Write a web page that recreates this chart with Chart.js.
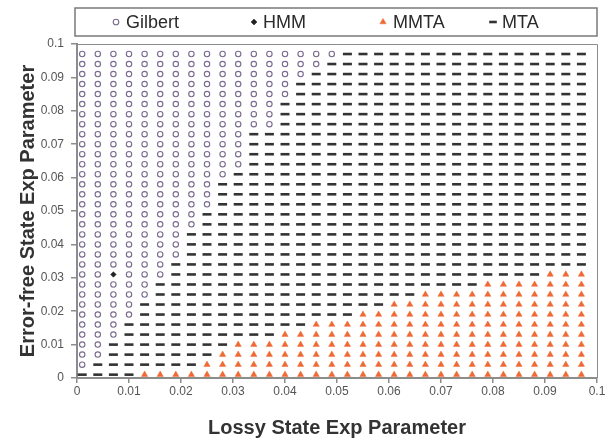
<!DOCTYPE html>
<html>
<head>
<meta charset="utf-8">
<script src="https://cdn.jsdelivr.net/npm/chart.js@4.4.0/dist/chart.umd.min.js"></script>
<style>
  html, body { margin: 0; padding: 0; background: #fff; }
  #wrap { width: 607px; height: 443px; }
</style>
</head>
<body>
<div id="wrap"><canvas id="gridChart"></canvas></div>
<script>
// grid of parameter values (same for both axes)
const lossyRates = [0.001, 0.004, 0.007, 0.010, 0.013, 0.016, 0.019, 0.022, 0.025, 0.028, 0.031,
    0.034, 0.037, 0.040, 0.043, 0.046, 0.049, 0.052, 0.055, 0.058, 0.061, 0.064,
    0.067, 0.070, 0.073, 0.076, 0.079, 0.082, 0.085, 0.088, 0.091, 0.094, 0.097];
const errorFreeRates = [0.001, 0.004, 0.007, 0.010, 0.013, 0.016, 0.019, 0.022, 0.025, 0.028, 0.031,
    0.034, 0.037, 0.040, 0.043, 0.046, 0.049, 0.052, 0.055, 0.058, 0.061, 0.064,
    0.067, 0.070, 0.073, 0.076, 0.079, 0.082, 0.085, 0.088, 0.091, 0.094, 0.097];

// per error-free row (bottom -> top): how many columns from the left are Gilbert
const gilbertCount = [0, 1, 2, 2, 3, 3, 4, 4, 5, 5, 6, 6, 7, 7, 7, 8, 8, 9, 9, 9, 10,
    11, 11, 11, 11, 13, 13, 13, 14, 14, 15, 16, 17];
// per row: first column that is MMTA (rows not listed have none)
const mmtaFrom = [4, 8, 9, 10, 13, 15, 18, 20, 22, 26, 30];
// single HMM winner
const hmmPoint = { x: 0.007, y: 0.031 };

const seriesNames = ['Gilbert', 'HMM', 'MMTA', 'MTA'];
const tickLabel = v => String(parseFloat(Number(v).toFixed(2)));

const gilbertPts = [], mmtaPts = [], mtaPts = [];
errorFreeRates.forEach((y, j) => {
    lossyRates.forEach((x, i) => {
        if (x === hmmPoint.x && y === hmmPoint.y) return;
        if (i < gilbertCount[j]) gilbertPts.push({ x, y });
        else if (j < mmtaFrom.length && i >= mmtaFrom[j]) mmtaPts.push({ x, y });
        else mtaPts.push({ x, y });
    });
});

Chart.defaults.font.family = "'Liberation Sans', Arial, sans-serif";
Chart.defaults.color = '#555';

const axisGrey = '#8c8c8c';

// frame + legend box drawn on the canvas
const legendSlots = [
    { mark: 116, text: 126 },
    { mark: 254, text: 263 },
    { mark: 383, text: 393 },
    { mark: 493, text: 502 }
];
const framePlugin = {
    id: 'frameAndKey',
    beforeDatasetsDraw(chart) {
        const { ctx, chartArea: a } = chart;
        ctx.save();
        ctx.strokeStyle = axisGrey;
        ctx.lineWidth = 1;
        ctx.beginPath();
        ctx.moveTo(a.left, a.top + 0.5);
        ctx.lineTo(a.right + 0.5, a.top + 0.5);
        ctx.lineTo(a.right + 0.5, a.bottom);
        ctx.stroke();
        ctx.restore();
    },
    afterDraw(chart) {
        const { ctx, chartArea: a } = chart;
        ctx.save();
        ctx.strokeStyle = '#7a7a7a';
        ctx.lineWidth = 1.5;
        ctx.strokeRect(a.left - 2, 8, a.right - a.left + 2, 28);
        const cy = 22;
        chart.data.datasets.forEach((ds, i) => {
            const slot = legendSlots[i];
            ctx.save();
            ctx.fillStyle = ds.pointBackgroundColor;
            ctx.strokeStyle = ds.pointBorderColor;
            ctx.lineWidth = ds.pointBorderWidth;
            Chart.helpers.drawPoint(ctx, {
                pointStyle: ds.pointStyle,
                radius: ds.legendRadius,
                borderWidth: ds.pointBorderWidth,
                rotation: 0
            }, slot.mark, cy);
            ctx.restore();
            ctx.fillStyle = '#2a2a2a';
            ctx.font = "18px 'Liberation Sans', Arial, sans-serif";
            ctx.textBaseline = 'middle';
            ctx.fillText(ds.label, slot.text, cy + 1);
        });
        ctx.restore();
    }
};

new Chart(document.getElementById('gridChart'), {
    type: 'scatter',
    data: {
        datasets: [
            {
                label: seriesNames[0],
                data: gilbertPts,
                pointStyle: 'circle',
                pointRadius: 2.7,
                legendRadius: 2.8,
                pointBorderWidth: 1.1,
                pointBorderColor: '#7a6a8e',
                pointBackgroundColor: 'rgba(255,255,255,0)',
                clip: false
            },
            {
                label: seriesNames[1],
                data: [hmmPoint],
                pointStyle: 'rectRot',
                pointRadius: 2.8,
                legendRadius: 3,
                pointBorderWidth: 0.5,
                pointBorderColor: '#222',
                pointBackgroundColor: '#222',
                clip: false
            },
            {
                label: seriesNames[2],
                data: mmtaPts,
                pointStyle: 'triangle',
                pointRadius: 3.6,
                legendRadius: 3.6,
                pointBorderWidth: 0.5,
                pointBorderColor: '#ee6a35',
                pointBackgroundColor: '#ee6a35',
                clip: false
            },
            {
                label: seriesNames[3],
                data: mtaPts,
                pointStyle: 'line',
                pointRadius: 4.5,
                legendRadius: 3.8,
                pointBorderWidth: 2.6,
                pointBorderColor: '#333',
                pointBackgroundColor: '#333',
                clip: false
            }
        ]
    },
    options: {
        responsive: true,
        maintainAspectRatio: false,
        animation: false,
        devicePixelRatio: 1,
        layout: { padding: { top: 44, right: 10, left: 0, bottom: 0 } },
        plugins: {
            legend: { display: false },
            tooltip: { enabled: false }
        },
        scales: {
            x: {
                type: 'linear',
                min: 0,
                max: 0.1,
                afterFit: s => { s.height = 65; },
                ticks: { stepSize: 0.01, padding: 1, color: '#555', font: { size: 12 }, callback: tickLabel },
                grid: { drawOnChartArea: false, drawTicks: true, tickLength: 5, color: axisGrey, lineWidth: 1.5 },
                border: { color: axisGrey, width: 2 },
                title: {
                    display: true,
                    text: 'Lossy State Exp Parameter',
                    color: '#333',
                    font: { size: 20, weight: 'bold' },
                    padding: { top: 4, bottom: 3 }
                }
            },
            y: {
                type: 'linear',
                min: 0,
                max: 0.1,
                afterFit: s => { s.width = 77; },
                ticks: { stepSize: 0.01, padding: 7, color: '#555', font: { size: 12 }, callback: tickLabel },
                grid: { drawOnChartArea: false, drawTicks: true, tickLength: 6, color: axisGrey, lineWidth: 1.5 },
                border: { color: axisGrey, width: 2 },
                title: {
                    display: true,
                    text: 'Error-free State Exp Parameter',
                    color: '#333',
                    font: { size: 20, weight: 'bold' },
                    padding: { top: 16, bottom: 0 }
                }
            }
        }
    },
    plugins: [framePlugin]
});
</script>
</body>
</html>
